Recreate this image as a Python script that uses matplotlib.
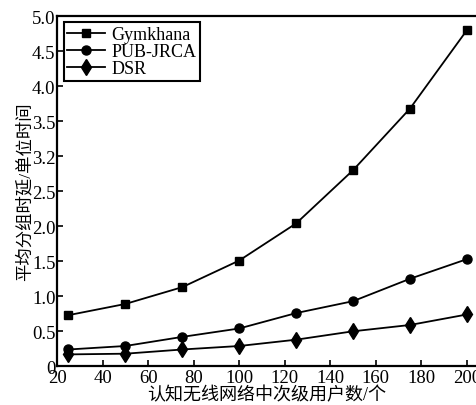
import matplotlib
matplotlib.use("Agg")
import matplotlib.pyplot as plt

# data
users = [25, 50, 75, 100, 125, 150, 175, 200]
gymkhana = [0.73, 0.89, 1.13, 1.51, 2.04, 2.80, 3.68, 4.80]
pub_jrca = [0.24, 0.29, 0.42, 0.54, 0.76, 0.93, 1.25, 1.53]
dsr = [0.17, 0.18, 0.24, 0.29, 0.38, 0.50, 0.59, 0.74]

xticks = [20, 40, 60, 80, 100, 120, 140, 160, 180, 200]
yticks = [0, 0.5, 1.0, 1.5, 2.0, 2.5, 3.0, 3.5, 4.0, 4.5, 5.0]
ytick_labels = ["0", "0.5", "1.0", "1.5", "2.0", "2.5", "3.2", "3.5", "4.0", "4.5", "5.0"]

fonts = ["Liberation Serif", "Noto Sans CJK SC", "DejaVu Sans"]
plt.rcParams["font.family"] = fonts

fig = plt.figure(figsize=(4.77, 4.06), dpi=100)
ax = fig.add_axes([0.1195, 0.0953, 0.8805, 0.8627])

ax.plot(users, gymkhana, color="black", lw=1.3, marker="s", ms=6, label="Gymkhana")
ax.plot(users, pub_jrca, color="black", lw=1.3, marker="o", ms=6.5, label="PUB-JRCA")
ax.plot(users, dsr, color="black", lw=1.3, marker="d", ms=8, label="DSR")

ax.set_xlim(20, 204.4)
ax.set_ylim(0, 5.0)
ax.set_xticks(xticks)
ax.set_yticks(yticks)
ax.set_yticklabels(ytick_labels)
ax.tick_params(direction="in", length=4, width=1.2, labelsize=13.5, pad=1, colors="black")
ax.tick_params(axis="x", pad=2)

for side in ["left", "bottom", "top"]:
    ax.spines[side].set_linewidth(1.6)
ax.spines["right"].set_visible(False)

ax.set_xlabel("认知无线网络中次级用户数/个", fontsize=13, labelpad=0)
ax.set_ylabel("平均分组时延/单位时间", fontsize=12.5, labelpad=-1)

leg = ax.legend(loc="upper left", bbox_to_anchor=(0.016, 0.982), fontsize=13,
                frameon=True, fancybox=False, edgecolor="black", framealpha=1,
                handlelength=2.1, handletextpad=0.35, borderpad=0.2,
                labelspacing=0.0, borderaxespad=0.0)
leg.get_frame().set_linewidth(1.5)

fig.savefig("out.png", dpi=100)
